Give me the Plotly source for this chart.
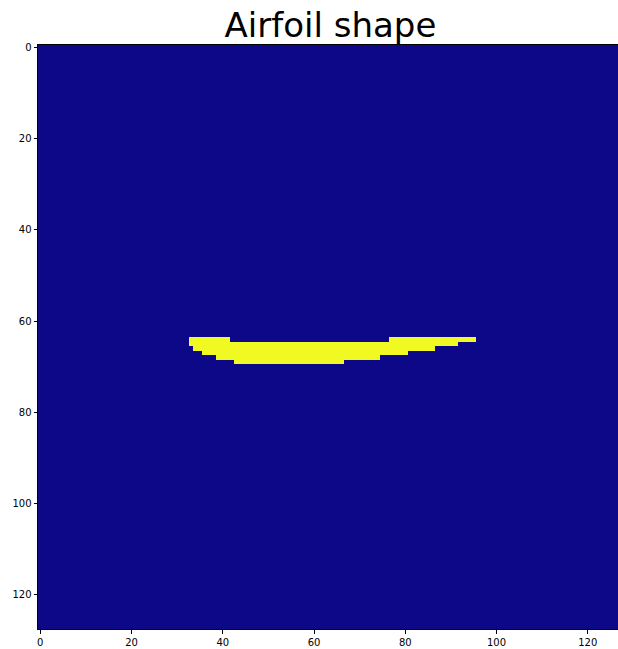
import numpy as np
import plotly.graph_objects as go

# Grid size and airfoil mask segments (row, first col, last col)
grid_size = 128
seg_rows = [64, 64, 65, 66, 67, 68, 69]
seg_start = [33, 77, 33, 34, 36, 39, 43]
seg_end = [41, 95, 91, 86, 80, 74, 66]
tick_vals = [0, 20, 40, 60, 80, 100, 120]

z = np.zeros((grid_size, grid_size))
for r, a, b in zip(seg_rows, seg_start, seg_end):
    z[r, a:b + 1] = 1

fig = go.Figure(go.Heatmap(
    z=z,
    x=np.arange(grid_size),
    y=np.arange(grid_size),
    colorscale="Plasma",
    zmin=0, zmax=1,
    showscale=False,
    hoverinfo="skip",
))

axis_common = dict(
    showgrid=False, zeroline=False,
    ticks="outside", ticklen=3.5, tickwidth=0.8, tickcolor="black",
    showline=True, linecolor="black", linewidth=1,
    tickvals=tick_vals,
    tickfont=dict(family="DejaVu Sans", size=10, color="black"),
)

fig.update_layout(
    width=618, height=649,
    margin=dict(l=38, r=0, t=45, b=20),
    paper_bgcolor="white", plot_bgcolor="white",
    xaxis=dict(range=[-0.5, 126.62], mirror=True, **axis_common),
    yaxis=dict(range=[127.5, -0.5], mirror=False, **axis_common),
    title=dict(
        text="Airfoil shape",
        font=dict(family="DejaVu Sans", size=34, color="black"),
        x=(330.5) / 618, xanchor="center", xref="paper" if False else "container",
        y=1 - 25 / 649, yanchor="middle", yref="container",
    ),
)

fig.write_html("out.html")
